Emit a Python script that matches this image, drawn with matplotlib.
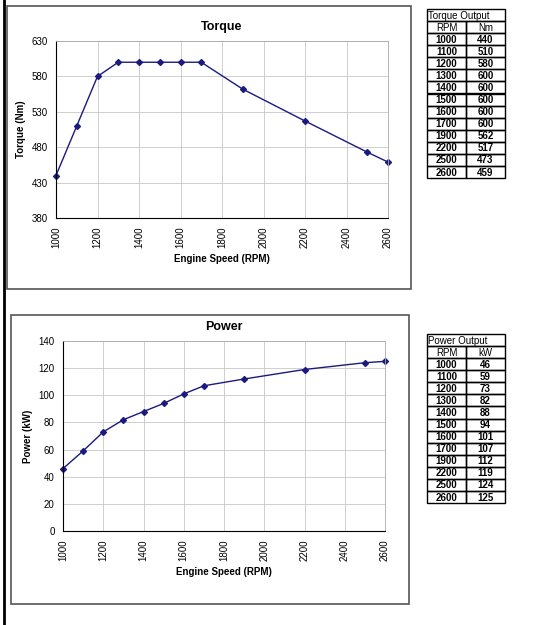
import matplotlib.pyplot as plt
from matplotlib.patches import Rectangle

rpm = [1000, 1100, 1200, 1300, 1400, 1500, 1600, 1700, 1900, 2200, 2500, 2600]
torque_nm = [440, 510, 580, 600, 600, 600, 600, 600, 562, 517, 473, 459]
power_kw = [46, 59, 73, 82, 88, 94, 101, 107, 112, 119, 124, 125]

W, H = 560, 625
LINE = '#1a1a80'

fig = plt.figure(figsize=(5.6, 6.25), dpi=100)
fig.patch.set_facecolor('white')
plt.rcParams['font.family'] = ['Liberation Sans', 'DejaVu Sans']


def px(x0, y0, x1, y1):
    return [x0 / W, 1 - y1 / H, (x1 - x0) / W, (y1 - y0) / H]


def frame(x0, y0, x1, y1):
    l, b, w, h = px(x0, y0, x1, y1)
    fig.patches.append(Rectangle((l, b), w, h, transform=fig.transFigure, fill=False,
                                 edgecolor='#555555', linewidth=1.2))


def chart(rect, y, ylim, yticks, title, ylabel):
    ax = fig.add_axes(px(*rect))
    ax.plot(rpm, y, color=LINE, lw=1.0, marker='D', ms=3, mfc=LINE, mec=LINE, clip_on=False)
    ax.set_xlim(1000, 2600)
    ax.set_ylim(*ylim)
    ax.set_xticks(range(1000, 2601, 200))
    ax.set_yticks(yticks)
    ax.tick_params(axis='x', labelrotation=90, labelsize=7, length=0, pad=6)
    ax.tick_params(axis='y', labelsize=7, length=0, pad=6)
    ax.grid(True, color='#c8c8c8', lw=0.6)
    for s in ['top', 'right']:
        ax.spines[s].set_color('#aaaaaa')
        ax.spines[s].set_linewidth(0.6)
    for s in ['left', 'bottom']:
        ax.spines[s].set_color('black')
        ax.spines[s].set_linewidth(0.8)
    ax.set_title(title, fontsize=9, fontweight='bold', pad=8)
    ax.set_xlabel('Engine Speed (RPM)', fontsize=7, fontweight='bold')
    ax.set_ylabel(ylabel, fontsize=7, fontweight='bold')
    return ax


def table(rect, title, unit, vals):
    ax = fig.add_axes(px(*rect))
    ax.set_xlim(0, 2)
    n = len(vals) + 2
    ax.set_ylim(n, 0)
    ax.axis('off')
    ax.add_patch(Rectangle((0, 0), 2, 1, fill=False, ec='black', lw=1, clip_on=False))
    ax.text(0.03, 0.55, title, ha='left', va='center', fontsize=7)
    for j, (a, b) in enumerate([('RPM', unit)] + list(zip(rpm, vals))):
        r = j + 1
        for c, t in enumerate([a, b]):
            ax.add_patch(Rectangle((c, r), 1, 1, fill=False, ec='black', lw=1, clip_on=False))
            ax.text(c + 0.5, r + 0.55, str(t), ha='center', va='center', fontsize=7,
                    fontweight='normal' if j == 0 else 'bold')


frame(7, 6, 411, 289)
frame(11, 315, 409, 604)
fig.lines.append(plt.Line2D([4 / W, 4 / W], [0, 1], transform=fig.transFigure, color='black', lw=2))

chart((56, 41, 388, 218), torque_nm, (380, 630), range(380, 631, 50), 'Torque', 'Torque (Nm)')
chart((63, 341, 385, 531), power_kw, (0, 140), range(0, 141, 20), 'Power', 'Power (kW)')
table((427, 9, 505, 178), 'Torque Output', 'Nm', torque_nm)
table((427, 334, 505, 503), 'Power Output', 'kW', power_kw)

fig.savefig('out.png', dpi=100)
